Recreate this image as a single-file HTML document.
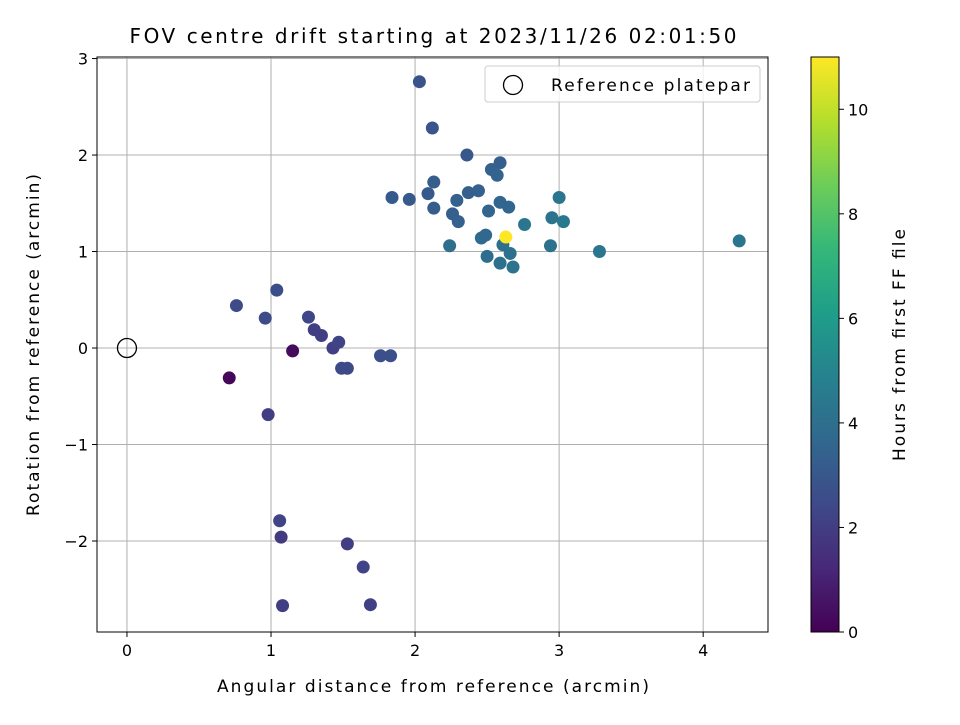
<!DOCTYPE html>
<html><head><meta charset="utf-8"><style>
body{margin:0;background:#fff}
svg text{font-family:"DejaVu Sans","Liberation Sans",sans-serif;fill:#000}
</style></head><body>
<svg id="chart" width="960" height="720" viewBox="0 0 960 720" xmlns="http://www.w3.org/2000/svg">
<rect width="960" height="720" fill="#fff"/>
<g id="grid"></g>
<g id="points"></g>
<g id="axes"></g>
</svg>
<script>
const xs=[0.71,1.15,0.98,0.76,0.96,1.04,1.26,1.30,1.35,1.43,1.47,1.49,1.53,1.76,1.83,1.06,1.07,1.08,1.53,1.64,1.69,2.03,2.12,2.36,1.84,1.96,2.09,2.13,2.13,2.26,2.29,2.30,2.37,2.44,2.53,2.59,2.57,2.51,2.59,2.65,2.24,2.46,2.49,2.50,2.59,2.61,2.66,2.68,2.76,2.95,3.00,3.03,2.94,3.28,4.25,2.63];
const ys=[-0.31,-0.03,-0.69,0.44,0.31,0.60,0.32,0.19,0.13,0.0,0.06,-0.21,-0.21,-0.08,-0.08,-1.79,-1.96,-2.67,-2.03,-2.27,-2.66,2.76,2.28,2.0,1.56,1.54,1.6,1.72,1.45,1.39,1.53,1.31,1.61,1.63,1.85,1.92,1.79,1.42,1.51,1.46,1.06,1.14,1.17,0.95,0.88,1.07,0.98,0.84,1.28,1.35,1.56,1.31,1.06,1.0,1.11,1.15];
const hours=[0.2,0.3,2.0,2.5,2.5,2.6,2.3,2.0,2.0,2.1,2.2,2.4,2.4,2.7,2.7,2.2,1.9,2.0,2.0,2.2,2.1,2.8,2.9,3.0,3.1,3.1,3.1,3.2,3.2,3.3,3.4,3.4,3.3,3.4,3.4,3.3,3.5,3.6,3.6,3.6,4.0,3.8,3.7,3.9,4.1,4.0,4.1,4.2,4.3,4.2,4.3,4.4,4.1,4.3,4.3,11];
const xTicks=[0,1,2,3,4];
const yTicks=[-2,-1,0,1,2,3];
const cTicks=[0,2,4,6,8,10];

const L=97,R=768,T=57,B=632;
const xMin=-0.208,xMax=4.45,yMin=-2.943,yMax=3.016,hMax=11;
const X=v=>L+(v-xMin)/(xMax-xMin)*(R-L);
const Y=v=>B-(v-yMin)/(yMax-yMin)*(B-T);
const vir=[[68,1,84],[72,40,120],[62,74,137],[49,104,142],[38,130,142],[31,158,137],[53,183,121],[109,205,89],[180,222,44],[253,231,37]];
function color(t){t=Math.max(0,Math.min(1,t))*(vir.length-1);const i=Math.min(Math.floor(t),vir.length-2),f=t-i;
 const c=vir[i].map((a,k)=>Math.round(a+(vir[i+1][k]-a)*f));return `rgb(${c})`;}
const NS='http://www.w3.org/2000/svg';
function mk(parent,tag,attrs,text){const e=document.createElementNS(NS,tag);for(const k in attrs)e.setAttribute(k,attrs[k]);if(text!==undefined)e.textContent=text;parent.appendChild(e);return e;}
const grid=document.getElementById('grid'),pts=document.getElementById('points'),ax=document.getElementById('axes');
xTicks.forEach(v=>{const g=mk(grid,'line',{x1:X(v),x2:X(v),y1:T,y2:B,stroke:'#b0b0b0','stroke-width':1});
 
 
 const tk=mk(ax,'line',{x1:X(v),x2:X(v),y1:B,y2:B+5,stroke:'#000'});
 
 
 const t=mk(ax,'text',{x:X(v),y:B+24,'text-anchor':'middle','font-size':16},v);
 
 });
yTicks.forEach(v=>{const g=mk(grid,'line',{x1:L,x2:R,y1:Y(v),y2:Y(v),stroke:'#b0b0b0','stroke-width':1});
 
 
 const tk=mk(ax,'line',{x1:L-5,x2:L,y1:Y(v),y2:Y(v),stroke:'#000'});
 
 
 const t=mk(ax,'text',{x:L-9,y:Y(v)+6,'text-anchor':'end','font-size':16},(v<0?'\u2212':'')+Math.abs(v));
 
 });
xs.forEach((x,i)=>{const c=mk(pts,'circle',{cx:X(x),cy:Y(ys[i]),r:6.5,fill:color(hours[i]/hMax)});
 
 });
const ref=mk(pts,'circle',{cx:X(0),cy:Y(0),r:9.5,fill:'none',stroke:'#000','stroke-width':1.3});


const fr=mk(ax,'rect',{x:L,y:T,width:R-L,height:B-T,fill:'none',stroke:'#000','stroke-width':1});


// colorbar
const CL=811,CR=839;
const defs=mk(document.getElementById('chart'),'defs',{});
const lg=mk(defs,'linearGradient',{id:'vg',x1:0,y1:1,x2:0,y2:0});
vir.forEach((c,i)=>mk(lg,'stop',{offset:i/(vir.length-1),'stop-color':`rgb(${c})`}));
const cb=mk(ax,'rect',{x:CL,y:T,width:CR-CL,height:B-T,fill:'url(#vg)',stroke:'#000','stroke-width':1});


const CY=v=>B-v/hMax*(B-T);
cTicks.forEach(v=>{const tk=mk(ax,'line',{x1:CR,x2:CR+5,y1:CY(v),y2:CY(v),stroke:'#000'});
 
 
 const t=mk(ax,'text',{x:CR+9,y:CY(v)+6,'font-size':16},v);
 
 });
</script>
<svg style="position:absolute;left:0;top:0" width="960" height="720">
<text x="433" y="43" text-anchor="middle" font-size="20" textLength="607">FOV centre drift starting at 2023/11/26 02:01:50</text>
<text x="433" y="692" text-anchor="middle" font-size="17" textLength="432">Angular distance from reference (arcmin)</text>
<text transform="translate(39,345) rotate(-90)" text-anchor="middle" font-size="17" textLength="342">Rotation from reference (arcmin)</text>
<text transform="translate(905,345) rotate(-90)" text-anchor="middle" font-size="17" textLength="232">Hours from first FF file</text>
<g>
<rect x="485" y="66" width="275" height="36" rx="3" fill="#fff" fill-opacity="0.8" stroke="#ccc"/>
<circle cx="513" cy="85" r="9.5" fill="none" stroke="#000" stroke-width="1.3"/>
<text x="551" y="91" font-size="17" textLength="199">Reference platepar</text>
</g>
</svg>
</body></html>
